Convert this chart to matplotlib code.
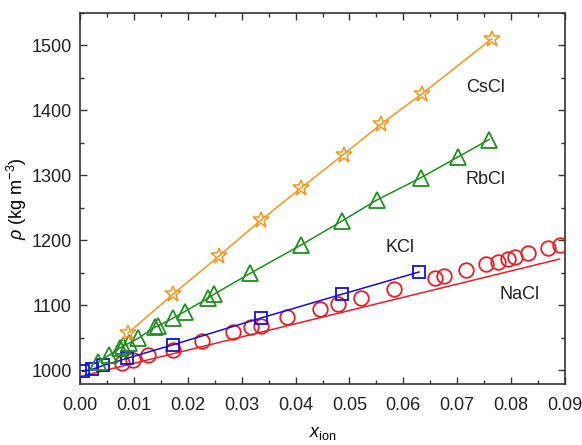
import matplotlib
matplotlib.use('Agg')
import matplotlib.pyplot as plt
from matplotlib.ticker import MultipleLocator

# --- 데이터 ---
cscl_x = [0.0089, 0.0173, 0.0257, 0.0336, 0.0411, 0.0489, 0.0559, 0.0634, 0.0764]
cscl_y = [1057, 1117, 1175, 1231, 1281, 1332, 1379, 1425, 1510]

rbcl_x = [0.0034, 0.0054, 0.0074, 0.0080, 0.0090, 0.0108, 0.0139, 0.0145, 0.0173,
          0.0194, 0.0238, 0.0249, 0.0316, 0.0411, 0.0487, 0.0551, 0.0632, 0.0701, 0.0759]
rbcl_y = [1013, 1023, 1034, 1037, 1041, 1049, 1066, 1068, 1080,
          1090, 1111, 1117, 1149, 1193, 1230, 1262, 1296, 1328, 1355]

kcl_x = [0.0005, 0.0022, 0.0043, 0.0087, 0.0173, 0.0335, 0.0487, 0.0629]
kcl_y = [998, 1001, 1007, 1018, 1039, 1080, 1117, 1151]

nacl_x = [0.0077, 0.0099, 0.0126, 0.0172, 0.0226, 0.0283, 0.0317, 0.0335, 0.0385,
          0.0445, 0.0479, 0.0521, 0.0583, 0.0659, 0.0675, 0.0716, 0.0753, 0.0776,
          0.0795, 0.0807, 0.0832, 0.0868, 0.0891]
nacl_y = [1011, 1015, 1023, 1031, 1045, 1058, 1067, 1068, 1081,
          1094, 1101, 1111, 1125, 1141, 1145, 1154, 1163, 1167,
          1171, 1174, 1180, 1188, 1193]

# NaCl 직선 (두 끝점)
nacl_fit_x = [0.0, 0.089]
nacl_fit_y = [990, 1171]

labels = ['CsCl', 'RbCl', 'KCl', 'NaCl']
label_x = [0.0752, 0.0752, 0.0594, 0.0816]
label_y = [1435, 1293, 1188, 1116]

# --- 폰트 설정 ---
plt.rcParams['font.family'] = ['Liberation Sans', 'DejaVu Sans']
plt.rcParams['mathtext.fontset'] = 'custom'
plt.rcParams['mathtext.rm'] = 'Liberation Sans'
plt.rcParams['mathtext.it'] = 'Liberation Sans:italic'

ORANGE = '#F7941D'
GREEN = '#1F8F1F'
BLUE = '#1010E0'
RED = '#EE1C25'

fig = plt.figure(figsize=(5.82, 4.45), dpi=100)
ax = fig.add_axes([0.1375, 0.1364, 0.8333, 0.8344])

ax.plot(nacl_fit_x, nacl_fit_y, '-', color=RED, lw=1.1, zorder=2)
ax.plot(nacl_x, nacl_y, 'o', color=RED, mfc='none', mec=RED, ms=10.5, mew=1.3, zorder=3)
ax.plot(kcl_x, kcl_y, '-s', color=BLUE, mfc='none', mec=BLUE, ms=8.5, mew=1.3, lw=1.1, zorder=4)
ax.plot(rbcl_x, rbcl_y, '-^', color=GREEN, mfc='none', mec=GREEN, ms=11, mew=1.3, lw=1.1, zorder=5)
ax.plot(cscl_x, cscl_y, '-*', color=ORANGE, mfc='none', mec=ORANGE, ms=12, mew=1.1, lw=1.1, zorder=6)

for t, x, y in zip(labels, label_x, label_y):
    ax.text(x, y, t, fontsize=13, ha='center', va='center', color='#222222')

ax.set_xlim(0, 0.09)
ax.set_ylim(978, 1550)
ax.xaxis.set_major_locator(MultipleLocator(0.01))
ax.xaxis.set_minor_locator(MultipleLocator(0.005))
ax.yaxis.set_major_locator(MultipleLocator(100))
ax.yaxis.set_minor_locator(MultipleLocator(50))
ax.xaxis.set_major_formatter(plt.FormatStrFormatter('%.2f'))

ax.tick_params(which='both', direction='in', top=True, right=True,
               labelsize=13, color='#333333', labelcolor='#222222', width=1.0)
ax.tick_params(which='major', length=5, pad=6)
ax.tick_params(axis='x', which='major', pad=9)
ax.tick_params(which='minor', length=3)
for s in ax.spines.values():
    s.set_linewidth(1.2)
    s.set_color('#333333')

ax.set_xlabel(r'$x_{\rm ion}$', fontsize=13, labelpad=8)
ax.set_ylabel(r'$\rho$ (kg m$^{-3}$)', fontsize=13, labelpad=2)

fig.savefig('out.png', dpi=100)
